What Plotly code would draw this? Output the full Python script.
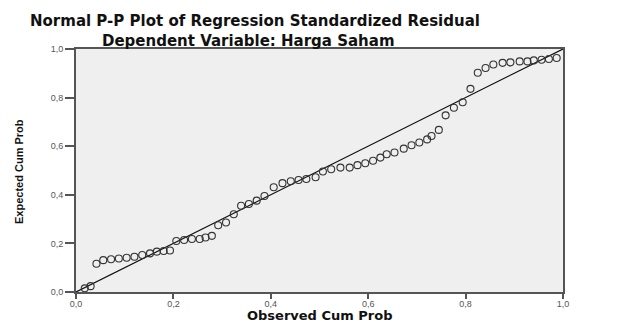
import plotly.graph_objects as go

# Observed cumulative probability (x) and expected cumulative probability (y)
observed_cum_prob = [
    0.018, 0.030, 0.042, 0.056, 0.072, 0.088, 0.104, 0.120, 0.136, 0.152,
    0.166, 0.180, 0.193, 0.206, 0.222, 0.238, 0.254, 0.266, 0.279, 0.292,
    0.308, 0.324, 0.339, 0.355, 0.371, 0.387, 0.406, 0.424, 0.441, 0.457,
    0.473, 0.492, 0.507, 0.524, 0.543, 0.562, 0.578, 0.594, 0.610, 0.625,
    0.638, 0.654, 0.673, 0.689, 0.705, 0.721, 0.730, 0.745, 0.759, 0.776,
    0.794, 0.810, 0.825, 0.841, 0.857, 0.876, 0.892, 0.911, 0.927, 0.940,
    0.956, 0.971, 0.987,
]
expected_cum_prob = [
    0.015, 0.024, 0.116, 0.131, 0.135, 0.138, 0.141, 0.145, 0.152, 0.159,
    0.166, 0.169, 0.171, 0.210, 0.214, 0.218, 0.218, 0.224, 0.231, 0.275,
    0.286, 0.320, 0.355, 0.362, 0.376, 0.395, 0.431, 0.448, 0.456, 0.461,
    0.465, 0.472, 0.496, 0.505, 0.512, 0.512, 0.522, 0.530, 0.540, 0.553,
    0.567, 0.574, 0.590, 0.604, 0.615, 0.628, 0.642, 0.667, 0.727, 0.758,
    0.781, 0.836, 0.902, 0.922, 0.936, 0.943, 0.945, 0.949, 0.949, 0.953,
    0.956, 0.959, 0.963,
]
ref_line = [0.0, 1.0]

tick_vals = [0.0, 0.2, 0.4, 0.6, 0.8, 1.0]
tick_text = ["0,0", "0,2", "0,4", "0,6", "0,8", "1,0"]

title_line1 = "Normal P-P Plot of Regression Standardized Residual"
title_line2 = "Dependent Variable: Harga Saham"
x_title = "Observed Cum Prob"
y_title = "Expected Cum Prob"

W, H = 622, 323
L, R, T, B = 76, 59, 49, 31
pw, ph = W - L - R, H - T - B

def px_x(p):
    return (p - L) / pw

def px_y(p):
    return (H - B - p) / ph

fig = go.Figure()
fig.add_trace(go.Scatter(
    x=ref_line, y=ref_line, mode="lines",
    line=dict(color="#111111", width=1.2), hoverinfo="skip", showlegend=False,
))
fig.add_trace(go.Scatter(
    x=observed_cum_prob, y=expected_cum_prob, mode="markers",
    marker=dict(symbol="circle-open", size=7, color="#333333", line=dict(width=1.1)),
    cliponaxis=False, showlegend=False,
))

axis_common = dict(
    range=[0, 1], tickvals=tick_vals, ticktext=tick_text,
    showgrid=False, zeroline=False, showline=True, mirror=True,
    linecolor="#555555", linewidth=2, ticks="outside", tickcolor="#555555",
    tickfont=dict(family="Liberation Sans, Arial", size=9, color="#555555"),
    fixedrange=True,
)
fig.update_xaxes(**axis_common, ticklen=5, tickwidth=1.5, ticklabelstandoff=-3)
fig.update_yaxes(**axis_common, ticklen=9, tickwidth=1.5)

title_font = dict(family="DejaVu Sans", size=15, color="#111111")
fig.update_layout(
    width=W, height=H,
    margin=dict(l=L, r=R, t=T, b=B, pad=0),
    paper_bgcolor="white", plot_bgcolor="#efefef",
    annotations=[
        dict(text="<b>%s</b>" % title_line1, xref="paper", yref="paper",
             x=px_x(255), y=px_y(21), xanchor="center", yanchor="middle",
             showarrow=False, font=title_font),
        dict(text="<b>%s</b>" % title_line2, xref="paper", yref="paper",
             x=px_x(248), y=px_y(41), xanchor="center", yanchor="middle",
             showarrow=False, font=title_font),
        dict(text="<b>%s</b>" % x_title, xref="paper", yref="paper",
             x=px_x(320), y=px_y(315), xanchor="center", yanchor="middle",
             showarrow=False, font=dict(family="DejaVu Sans", size=13, color="#111111")),
        dict(text="<b>%s</b>" % y_title, xref="paper", yref="paper",
             x=px_x(19), y=px_y(172), xanchor="center", yanchor="middle",
             textangle=-90, showarrow=False,
             font=dict(family="Liberation Sans, Arial", size=11, color="#111111")),
    ],
)

fig.write_html("out.html", post_script="document.body.style.margin='0';",
               config={"displayModeBar": False})
